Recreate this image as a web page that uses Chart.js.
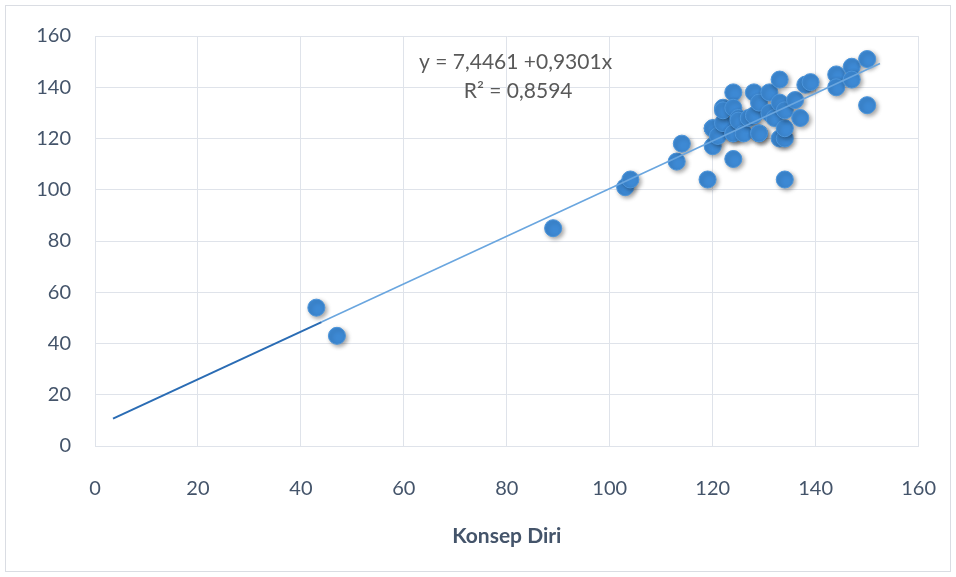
<!DOCTYPE html>
<html>
<head>
<meta charset="utf-8">
<script src="https://cdn.jsdelivr.net/npm/chart.js@4"></script>
<style>
  body { margin: 0; background: #fff; }
  canvas { display: block; }
</style>
</head>
<body>
<canvas id="chart" width="956" height="577"></canvas>
<script>
// Konsep Diri (x) vs second score (y)
var konsepDiri = [43, 47, 89, 103, 104, 113, 114, 119, 120, 120, 120, 121, 122, 122, 122, 124, 124, 124, 124, 124, 125, 125, 126, 127, 128, 128, 129, 129, 129, 131, 131, 132, 133, 133, 133, 134, 134, 134, 134, 136, 137, 138, 139, 144, 144, 147, 147, 150, 150]
var skor = [54, 43, 85, 101, 104, 111, 118, 104, 117, 124, 124, 121, 132, 126, 131, 138, 132, 122, 112, 122, 128, 127, 122, 128, 129, 138, 134, 122, 122, 138, 130, 128, 143, 134, 120, 120, 124, 131, 104, 135, 128, 141, 142, 145, 140, 148, 143, 151, 133]

var intercept = 7.4461
var slope = 0.9301
var trendStart = 3.5
var trendMid = 44
var trendEnd = 152.5

var axisTicks = [0, 20, 40, 60, 80, 100, 120, 140, 160]

var points = []
for (var i = 0; i < konsepDiri.length; i++) {
    points.push({ x: konsepDiri[i], y: skor[i] })
}

function trendPoint(x){
    return { x: x, y: intercept + slope * x }
}

var textColor = '#44546a'
var gridColor = '#dfe3ea'
var font = "Lato, 'Open Sans', sans-serif"

var frame = {
    id: 'frame',
    beforeDraw: function(chart){
        var ctx = chart.ctx
        ctx.save()
        ctx.fillStyle = '#fff'
        ctx.fillRect(0, 0, chart.width, chart.height)
        ctx.strokeStyle = '#dadde3'
        ctx.lineWidth = 1
        ctx.strokeRect(5.5, 5.5, chart.width - 11, chart.height - 11)
        ctx.restore()
    }
}

var shadow = {
    id: 'shadow',
    beforeDatasetDraw: function(chart, args){
        if (args.index !== 0) return
        var ctx = chart.ctx
        ctx.save()
        ctx.shadowColor = 'rgba(0,0,0,0.35)'
        ctx.shadowBlur = 4
        ctx.shadowOffsetX = 2
        ctx.shadowOffsetY = 2
    },
    afterDatasetDraw: function(chart, args){
        if (args.index !== 0) return
        chart.ctx.restore()
    }
}

var equation = {
    id: 'equation',
    afterDatasetsDraw: function(chart){
        var ctx = chart.ctx
        var xs = chart.scales.x
        var ys = chart.scales.y
        ctx.save()
        ctx.fillStyle = '#595959'
        ctx.font = '21px ' + font
        ctx.textAlign = 'center'
        ctx.textBaseline = 'middle'
        ctx.fillText('y = 7,4461 +0,9301x', xs.getPixelForValue(81.7), ys.getPixelForValue(149.6))
        ctx.fillText('R\u00B2 = 0,8594', xs.getPixelForValue(82.2), ys.getPixelForValue(138.6))
        ctx.restore()
    }
}

var ctx = document.getElementById('chart')

var chart = new Chart(ctx, {
    type: 'scatter',
    data: {
        datasets: [
            {
                label: 'Data',
                data: points,
                backgroundColor: '#3d89d4',
                borderColor: '#4c95db',
                borderWidth: 1,
                pointRadius: 8.5,
                pointHoverRadius: 8.5,
                order: 2
            },
            {
                type: 'line',
                label: 'Trend',
                data: [trendPoint(trendStart), trendPoint(trendMid)],
                borderColor: '#2a6cb4',
                borderWidth: 2,
                pointRadius: 0,
                fill: false,
                order: 1
            },
            {
                type: 'line',
                label: 'Trend 2',
                data: [trendPoint(trendMid), trendPoint(trendEnd)],
                borderColor: '#6aa6df',
                borderWidth: 1.6,
                pointRadius: 0,
                fill: false,
                order: 1
            }
        ]
    },
    options: {
        responsive: false,
        animation: false,
        layout: {
            padding: { left: 36, right: 20, top: 35, bottom: 28 }
        },
        plugins: {
            legend: { display: false },
            tooltip: { enabled: false }
        },
        scales: {
            x: {
                type: 'linear',
                min: 0,
                max: 160,
                afterBuildTicks: function(scale){
                    scale.ticks = axisTicks.map(function(v){ return { value: v } })
                },
                afterFit: function(scale){
                    scale.height = 103
                },
                ticks: {
                    color: textColor,
                    font: { family: font, size: 20 },
                    padding: 20,
                    maxRotation: 0
                },
                grid: { color: gridColor, drawTicks: true, tickLength: 11, tickColor: 'rgba(0,0,0,0)' },
                border: { color: gridColor },
                title: {
                    display: true,
                    text: 'Konsep Diri',
                    color: textColor,
                    font: { family: font, size: 21, weight: 'bold' },
                    padding: { top: 24, bottom: 0 }
                }
            },
            y: {
                min: 0,
                max: 160,
                afterBuildTicks: function(scale){
                    scale.ticks = axisTicks.map(function(v){ return { value: v } })
                },
                afterFit: function(scale){
                    scale.width = 59
                },
                ticks: {
                    color: textColor,
                    font: { family: font, size: 20 },
                    padding: 24
                },
                grid: { color: gridColor, drawTicks: false },
                border: { color: gridColor }
            }
        }
    },
    plugins: [frame, shadow, equation]
})
</script>
</body>
</html>
